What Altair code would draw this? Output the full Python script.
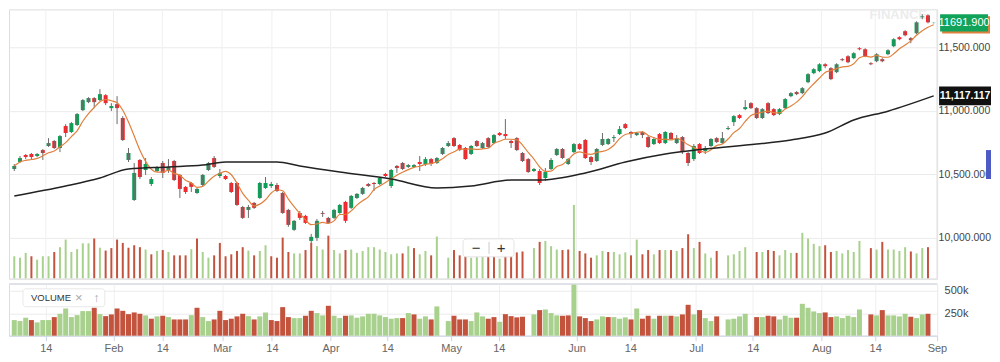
import altair as alt
import pandas as pd

# ---------------- data ----------------
opens = [10542,10597,10652,10660,10644,10691,10723,10762,10707,10880,
         10833,10888,11005,11068,11100,11084,11123,11021,11052,10943,
         10613,10298,10613,10534,10424,10526,10589,10534,10605,10495,
         10401,10432,10353,10416,10534,10628,10487,10487,10432,10432,
         10243,10220,10275,10314,10393,10408,10416,10353,10220,10063,
         10196,10173,9976,10000,10196,10157,10157,10196,10283,10236,
         10314,10346,10424,10432,10424,10503,10408,10566,10589,10558,
         10558,10597,10581,10620,10589,10660,10723,10785,10731,10707,
         10660,10762,10707,10785,10746,10825,10817,10762,10785,10668,
         10620,10526,10526,10471,10542,10652,10699,10581,10675,10738,
         10770,10636,10605,10731,10738,10785,10817,10895,10833,10809,
         10833,10793,10738,10817,10746,10825,10746,10793,10668,10620,
         10738,10683,10723,10785,10746,10856,10911,10966,11013,11060,
         11021,10943,11060,11013,10974,11021,11115,11147,11139,11225,
         11296,11312,11366,11335,11304,11406,11429,11414,11492,11484,
         11374,11390,11406,11445,11508,11579,11626,11571,11610,11736,
         11751,11690]
highs = [10581,10644,10660,10668,10668,10699,10785,10770,10809,10895,
         10911,10982,11092,11107,11107,11170,11131,11060,11115,10958,
         10707,10589,10620,10628,10479,10566,10605,10620,10613,10503,
         10408,10440,10393,10503,10597,10644,10542,10495,10440,10440,
         10251,10259,10283,10440,10479,10440,10432,10361,10228,10141,
         10212,10181,10031,10149,10212,10165,10228,10267,10291,10338,
         10353,10401,10432,10440,10479,10511,10542,10573,10597,10581,
         10581,10644,10636,10628,10636,10715,10762,10793,10738,10715,
         10731,10770,10754,10793,10817,10833,10935,10770,10793,10675,
         10628,10550,10542,10550,10628,10707,10707,10628,10746,10746,
         10778,10644,10707,10825,10785,10809,10880,10903,10840,10833,
         10840,10801,10785,10825,10840,10833,10809,10801,10675,10738,
         10746,10723,10785,10793,10833,10880,10966,10974,11084,11068,
         11029,11021,11068,11021,11021,11100,11147,11155,11186,11296,
         11335,11374,11374,11343,11374,11414,11437,11461,11500,11492,
         11382,11453,11414,11484,11571,11586,11634,11579,11704,11759,
         11759,11694]
lows = [10526,10589,10620,10613,10636,10613,10715,10699,10675,10793,
        10825,10880,10998,11060,11021,11076,11045,10998,10895,10762,
        10597,10291,10463,10495,10408,10518,10471,10511,10448,10314,
        10346,10361,10346,10408,10526,10550,10471,10455,10353,10251,
        10149,10157,10228,10306,10385,10393,10361,10189,10087,10055,
        10141,10110,9960,9976,10165,10110,10149,10189,10118,10228,
        10306,10338,10401,10369,10416,10479,10393,10511,10534,10550,
        10550,10526,10566,10566,10581,10652,10715,10715,10683,10613,
        10652,10715,10699,10707,10738,10801,10778,10707,10683,10597,
        10511,10518,10416,10448,10534,10644,10620,10573,10668,10691,
        10620,10573,10597,10723,10731,10754,10809,10856,10785,10801,
        10785,10707,10731,10738,10738,10770,10738,10660,10566,10605,
        10660,10660,10715,10746,10738,10848,10880,10935,11005,11013,
        10935,10935,10974,10958,10966,11013,11107,11123,11131,11217,
        11288,11304,11335,11241,11296,11390,11374,11406,11476,11422,
        11359,11382,11382,11437,11500,11555,11586,11532,11602,11720,
        11688,11688]
closes = [10566,10628,10636,10636,10660,10668,10746,10707,10801,10825,
          10903,10974,11084,11100,11068,11131,11060,11037,11021,10770,
          10668,10511,10479,10581,10463,10550,10511,10558,10455,10385,
          10361,10401,10385,10495,10589,10558,10511,10463,10361,10259,
          10157,10243,10236,10432,10432,10424,10369,10196,10102,10134,
          10157,10118,10008,10134,10189,10118,10220,10259,10134,10330,
          10346,10393,10408,10424,10471,10487,10534,10550,10542,10573,
          10573,10581,10620,10581,10628,10707,10746,10723,10691,10620,
          10723,10723,10746,10715,10809,10809,10801,10746,10691,10605,
          10518,10542,10432,10518,10613,10699,10628,10620,10738,10699,
          10628,10597,10699,10778,10778,10793,10856,10864,10817,10825,
          10809,10715,10778,10746,10833,10778,10785,10675,10589,10723,
          10668,10707,10778,10754,10785,10864,10958,10943,11029,11021,
          10943,11013,10982,10966,11013,11092,11139,11131,11178,11288,
          11327,11366,11351,11249,11366,11398,11382,11453,11484,11429,
          11366,11445,11390,11476,11563,11563,11594,11555,11696,11743,
          11696,11691.9]
volumes_k = [174,163,200,174,148,174,174,207,244,303,
             207,229,274,274,311,240,218,237,303,277,
             240,259,244,226,189,215,222,207,181,181,
             181,229,311,207,163,181,277,174,189,215,
             244,218,181,215,259,174,163,318,207,196,
             196,222,277,252,226,333,222,196,222,226,
             200,215,244,244,226,207,189,196,196,252,
             237,189,215,181,326,0,163,222,181,181,
             163,259,215,189,207,155,240,218,204,211,
             0,237,285,292,252,226,222,226,570,215,
             196,163,181,215,207,207,189,204,181,303,
             189,222,189,222,222,222,215,237,344,237,
             285,196,163,215,0,181,189,215,244,0,
             207,207,222,215,181,222,200,200,355,311,
             270,252,259,207,215,196,222,207,292,0,
             237,226,285,226,226,215,244,211,196,237,
             244,0]
vol_dir = list("GGGRGGGRGG" "GGGGRGRRRR" "RRRGRGRGRR" "RGRGGRRRRR"
               "RGRGGRRRRG" "GRRGGRGGRG" "GGGGGGGGRG" "RGGRGGGRRR"
               "GGGRRGRRRR" "GGRGGGRRGR" "RRGGRGGGRG" "RRGRGRGRRG"
               "RGGRGGGGGG" "RGRRGGGRGG" "GGRRGGGGGG" "RGRGGGGRGG" "RG")

ma_long_idx = [1, 10, 16, 21, 28, 34, 38, 47, 51, 58, 67, 75, 81, 88, 93,
               101, 108, 115, 122, 131, 137, 143, 148, 154, 162]
ma_long_val = [10330, 10408, 10471, 10542, 10558, 10573, 10597, 10597, 10566,
               10518, 10463, 10393, 10408, 10455, 10455, 10511, 10597, 10660,
               10699, 10738, 10770, 10825, 10927, 10997, 11117.117]

tick_pos = [6.53, 18.38, 26.93, 37.39, 46.11, 56.39, 66.33, 77.49, 85.85,
            99.46, 108.87, 120.38, 130.32, 142.35, 151.76, 162.57]
tick_labels = ["14", "Feb", "14", "Mar", "14", "Apr", "14", "May", "14",
               "Jun", "14", "Jul", "14", "Aug", "14", "Sep"]
price_ticks = [10000, 10500, 11000, 11500]
vol_ticks = [250000, 500000]

last_close_label = "11691.900"
ma_long_label = "11,117.117"

# ---------------- styling ----------------
W = 930
H_MAIN = 270
H_VOL = 52
X_DOM = [0.076, 162.6]
Y_DOM = [9678, 11798]
GREEN = "#0e9f57"
RED = "#f2272c"
VGREEN = "#a9d18e"
VRED = "#c4533e"
ORANGE = "#e0803e"
FONT = "Liberation Sans"

n = len(closes)
df = pd.DataFrame({
    "i": list(range(1, n + 1)),
    "open": opens, "high": highs, "low": lows, "close": closes,
    "vol": [v * 1000 for v in volumes_k],
    "vdir": vol_dir,
})
df["dir"] = ["up" if c >= o else "down" for o, c in zip(opens, closes)]

ma_df = pd.DataFrame({"i": ma_long_idx, "v": ma_long_val})
ticks_df = pd.DataFrame({"p": tick_pos})
one = pd.DataFrame({"a": [0]})

xs = alt.Scale(domain=X_DOM, nice=False, zero=False, padding=0)
ys = alt.Scale(domain=Y_DOM, nice=False, zero=False, padding=0)
X = alt.X("i:Q", scale=xs, axis=None)

base = alt.Chart(df)

vgrid = alt.Chart(ticks_df).mark_rule(color="#f0f0f0", strokeWidth=1).encode(
    x=alt.X("p:Q", scale=xs, axis=None))

vol_main = base.transform_filter("datum.vol > 0").mark_bar(size=2).encode(
    x=X,
    y=alt.Y("vol:Q", scale=alt.Scale(domain=[0, 2080000], nice=False, padding=0), axis=None),
    color=alt.Color("vdir:N", scale=alt.Scale(domain=["G", "R"], range=[VGREEN, VRED]), legend=None),
)

wick = base.mark_rule(color="#6a6a6a", strokeWidth=1).encode(
    x=X, y=alt.Y("low:Q", scale=ys, axis=None), y2="high:Q")

body = base.mark_bar(size=4).encode(
    x=X,
    y=alt.Y("open:Q", scale=ys, axis=alt.Axis(
        orient="right", values=price_ticks, format=",.3f", ticks=False, domain=False,
        grid=True, gridColor="#ebebeb", labelColor="#444", labelFontSize=10.5,
        labelFont=FONT, labelPadding=1, title=None)),
    y2="close:Q",
    color=alt.Color("dir:N", scale=alt.Scale(domain=["up", "down"], range=[GREEN, RED]), legend=None),
)

ma_short = base.transform_window(
    ma5="mean(close)", frame=[-4, 0], sort=[{"field": "i"}]
).mark_line(color=ORANGE, strokeWidth=1.2, interpolate="monotone").encode(
    x=X, y=alt.Y("ma5:Q", scale=ys, axis=None))

ma_long = alt.Chart(ma_df).mark_line(color="#222222", strokeWidth=1.5, interpolate="monotone").encode(
    x=alt.X("i:Q", scale=xs, axis=None), y=alt.Y("v:Q", scale=ys, axis=None))

box_path = "M-1,-0.36 L1,-0.36 L1,0.36 L-1,0.36 Z"
lab_close = pd.DataFrame({"v": [closes[-1]], "t": [last_close_label]})
lab_ma = pd.DataFrame({"v": [ma_long_val[-1]], "t": [ma_long_label]})
LX = W + 27

close_shadow = alt.Chart(lab_close).mark_point(
    shape=box_path, size=48 * 48, filled=True, color=ORANGE, opacity=1, xOffset=2, yOffset=2
).encode(x=alt.value(LX), y=alt.Y("v:Q", scale=ys, axis=None))
close_box = alt.Chart(lab_close).mark_point(
    shape=box_path, size=48 * 48, filled=True, color="#12a35b", opacity=1
).encode(x=alt.value(LX), y=alt.Y("v:Q", scale=ys, axis=None))
close_txt = alt.Chart(lab_close).mark_text(
    color="white", fontSize=11, font=FONT
).encode(x=alt.value(LX), y=alt.Y("v:Q", scale=ys, axis=None), text="t:N")

ma_box = alt.Chart(lab_ma).mark_point(
    shape=box_path, size=52 * 52, filled=True, color="#111111", opacity=1
).encode(x=alt.value(LX + 1), y=alt.Y("v:Q", scale=ys, axis=None))
ma_txt = alt.Chart(lab_ma).mark_text(
    color="white", fontSize=10.5, font=FONT, fontWeight="bold"
).encode(x=alt.value(LX + 1), y=alt.Y("v:Q", scale=ys, axis=None), text="t:N")

blue_tab = alt.Chart(one).mark_rect(color="#4f5bc4").encode(
    x=alt.value(W + 49), x2=alt.value(W + 54), y=alt.value(141), y2=alt.value(170))

zoom_box = alt.Chart(one).mark_rect(
    fill="white", stroke="#e4e4e4", strokeWidth=1, cornerRadius=3
).encode(x=alt.value(455), x2=alt.value(506), y=alt.value(230), y2=alt.value(248))
zoom_sep = alt.Chart(one).mark_rule(color="#cccccc").encode(
    x=alt.value(481), y=alt.value(233), y2=alt.value(245))
zoom_minus = alt.Chart(one).mark_text(text="−", fontSize=15, color="#333", font=FONT).encode(
    x=alt.value(468), y=alt.value(239))
zoom_plus = alt.Chart(one).mark_text(text="+", fontSize=15, color="#333", font=FONT).encode(
    x=alt.value(493), y=alt.value(239))

watermark = alt.Chart(one).mark_text(
    text="FINANCE", fontSize=13, color="#ececec", font=FONT, fontWeight="bold"
).encode(x=alt.value(891), y=alt.value(6))

right_border = alt.Chart(one).mark_rule(color="#e3e3e3").encode(x=alt.value(W))
bottom_line = alt.Chart(one).mark_rule(color="#e6e6e6").encode(y=alt.value(H_MAIN))

top = alt.layer(
    vgrid, watermark, vol_main, body, wick, ma_short, ma_long,
    close_shadow, close_box, close_txt, ma_box, ma_txt, blue_tab,
    zoom_box, zoom_sep, zoom_minus, zoom_plus, right_border, bottom_line,
).resolve_scale(y="independent", color="independent").properties(width=W, height=H_MAIN)

# ---------------- volume panel ----------------
label_expr = "[{}][indexof([{}], datum.value)]".format(
    ",".join("'{}'".format(t) for t in tick_labels),
    ",".join(str(p) for p in tick_pos))

vol_bars = base.transform_filter("datum.vol > 0").mark_bar(size=5).encode(
    x=alt.X("i:Q", scale=xs, axis=alt.Axis(
        values=tick_pos, labelExpr=label_expr, grid=True, gridColor="#f0f0f0",
        domainColor="#ccd6eb", tickColor="#ccd6eb", tickSize=5, labelColor="#666",
        labelFontSize=11, labelFont=FONT, labelPadding=2, labelFlush=False,
        labelOverlap=False, title=None)),
    y=alt.Y("vol:Q", scale=alt.Scale(domain=[0, 578000], nice=False, padding=0), axis=alt.Axis(
        orient="right", values=vol_ticks, format="~s", ticks=False, domain=False,
        grid=True, gridColor="#ebebeb", labelColor="#444", labelFontSize=11,
        labelFont=FONT, labelPadding=7, title=None)),
    color=alt.Color("vdir:N", scale=alt.Scale(domain=["G", "R"], range=[VGREEN, VRED]), legend=None),
)

vol_top_line = alt.Chart(one).mark_rule(color="#d6dbe6").encode(y=alt.value(0))
vol_box = alt.Chart(one).mark_rect(
    fill="white", stroke="#e8e8e8", strokeWidth=1, cornerRadius=3
).encode(x=alt.value(14), x2=alt.value(96), y=alt.value(5), y2=alt.value(23))
vol_label = alt.Chart(one).mark_text(
    text="VOLUME", fontSize=9.5, color="#333", font=FONT, align="left"
).encode(x=alt.value(22), y=alt.value(14))
vol_x = alt.Chart(one).mark_text(text="×", fontSize=13, color="#aaa", font=FONT).encode(
    x=alt.value(70), y=alt.value(14))
vol_up = alt.Chart(one).mark_text(text="↑", fontSize=12, color="#aaa", font=FONT).encode(
    x=alt.value(88), y=alt.value(14))

bottom = alt.layer(
    vol_bars, vol_top_line, vol_box, vol_label, vol_x, vol_up
).properties(width=W, height=H_VOL)

chart = alt.vconcat(top, bottom, spacing=3).properties(
    padding=0
).configure_view(stroke=None).configure(background="white")

chart.save("out.html", embed_options={"renderer": "svg", "actions": False})
